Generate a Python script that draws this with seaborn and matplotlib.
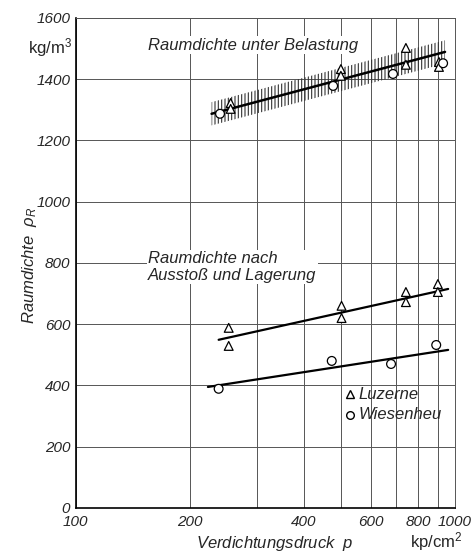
import matplotlib
matplotlib.use('Agg')
import matplotlib.pyplot as plt
import numpy as np
import pandas as pd
import seaborn as sns

p_lu_oben = [256, 256, 500, 500, 742, 742, 907, 907]
rho_lu_oben = [1322, 1303, 1433, 1411, 1502, 1447, 1456, 1440]
p_wi_oben = [240, 477, 686, 930]
rho_wi_oben = [1287, 1378, 1417, 1452]

p_lu_unten = [253, 253, 502, 502, 742, 742, 901, 901]
rho_lu_unten = [588, 529, 660, 620, 705, 672, 731, 705]
p_wi_unten = [238, 473, 678, 892]
rho_wi_unten = [389, 480, 470, 532]

# Ausgleichsgeraden (Endpunkte)
p_belastung = [228, 941]
rho_belastung = [1287, 1489]
p_lu_linie = [238, 959]
rho_lu_linie = [549, 715]
p_wi_linie = [223, 959]
rho_wi_linie = [395, 516]
band_breite = 38

x_ticks = [100, 200, 400, 600, 800, 1000]
x_grid = [100, 200, 300, 400, 500, 600, 700, 800, 900, 1000]
y_ticks = list(range(0, 1601, 200))

df = pd.DataFrame({
    'p': p_lu_oben + p_wi_oben + p_lu_unten + p_wi_unten,
    'rho': rho_lu_oben + rho_wi_oben + rho_lu_unten + rho_wi_unten,
    'Sorte': ['Luzerne'] * len(p_lu_oben) + ['Wiesenheu'] * len(p_wi_oben)
             + ['Luzerne'] * len(p_lu_unten) + ['Wiesenheu'] * len(p_wi_unten),
})

sns.set_style('white')
fam = ['Liberation Sans', 'DejaVu Sans']
plt.rcParams['font.family'] = fam
plt.rcParams['mathtext.fontset'] = 'custom'
plt.rcParams['mathtext.it'] = 'Liberation Sans:italic'
plt.rcParams['mathtext.rm'] = 'Liberation Sans'
plt.rcParams['hatch.linewidth'] = 0.8
plt.rcParams['hatch.color'] = '#333333'

fig = plt.figure(figsize=(4.74, 5.60), dpi=100)
ax = fig.add_axes([0.160, 0.093, 0.800, 0.875])
ax.set_xscale('log')

# Streuband
bx = np.array(p_belastung, dtype=float)
by = np.array(rho_belastung, dtype=float)
ax.fill_between(bx, by - band_breite, by + band_breite, facecolor='none',
                edgecolor='#333333', hatch='|||||', linewidth=0, zorder=2)

ax.plot(p_belastung, rho_belastung, color='black', lw=1.8, zorder=3)
ax.plot(p_lu_linie, rho_lu_linie, color='black', lw=1.6, zorder=3)
ax.plot(p_wi_linie, rho_wi_linie, color='black', lw=1.6, zorder=3)

sns.scatterplot(data=df, x='p', y='rho', style='Sorte',
                markers={'Luzerne': '^', 'Wiesenheu': 'o'},
                facecolor='white', edgecolor='black', linewidth=0.9,
                s=40, ax=ax, zorder=4, legend=False)

ax.set_xlim(100, 1000)
ax.set_ylim(0, 1600)
ax.tick_params(length=0)
ax.tick_params(axis='x', pad=5)
ax.tick_params(axis='y', pad=4)
ax.set_xticks(x_grid, minor=False)
ax.set_xticklabels([str(v) if v in x_ticks else '' for v in x_grid], fontsize=11)
ax.xaxis.set_minor_locator(matplotlib.ticker.NullLocator())
ax.set_yticks(y_ticks)
ax.set_yticklabels([str(v) for v in y_ticks], fontsize=11)
for lbl in ax.get_xticklabels() + ax.get_yticklabels():
    lbl.set_fontstyle('italic')
ax.grid(True, color='#555555', lw=0.7)
for s in ax.spines.values():
    s.set_color('#555555')
    s.set_linewidth(0.7)
ax.spines['left'].set_color('black')
ax.spines['bottom'].set_color('black')
ax.spines['left'].set_linewidth(1.2)
ax.spines['bottom'].set_linewidth(1.2)
ax.set_xlabel('')
ax.set_ylabel('')

txt = dict(style='italic', fontsize=12, family=fam)
ax.text(0.19, 0.935, 'Raumdichte unter Belastung', transform=ax.transAxes,
        bbox=dict(facecolor='white', edgecolor='none', pad=1), zorder=5, **txt)
ax.text(0.19, 0.46, 'Raumdichte nach\nAusstoß und Lagerung', transform=ax.transAxes,
        linespacing=1.1, va='bottom',
        bbox=dict(facecolor='white', edgecolor='none', pad=1), zorder=5, **txt)

# Legende
ax.plot([0.722], [0.232], transform=ax.transAxes, marker='^', ms=6,
        mfc='white', mec='black', ls='none', zorder=6)
ax.plot([0.722], [0.19], transform=ax.transAxes, marker='o', ms=5.5,
        mfc='white', mec='black', ls='none', zorder=6)
ax.text(0.745, 0.232, 'Luzerne', transform=ax.transAxes, va='center', zorder=6, **txt)
ax.text(0.745, 0.19, 'Wiesenheu', transform=ax.transAxes, va='center', zorder=6, **txt)

fig.text(0.063, 0.527, 'Raumdichte  $\\rho_R$', rotation=90, ha='center',
         va='center', **txt)
fig.text(0.06, 0.905, 'kg/m$^3$', fontsize=12, family=fam)
fig.text(0.58, 0.022, 'Verdichtungsdruck  $p$', ha='center', **txt)
fig.text(0.865, 0.022, 'kp/cm$^2$', fontsize=12, family=fam)

fig.savefig('out.png', dpi=100)
